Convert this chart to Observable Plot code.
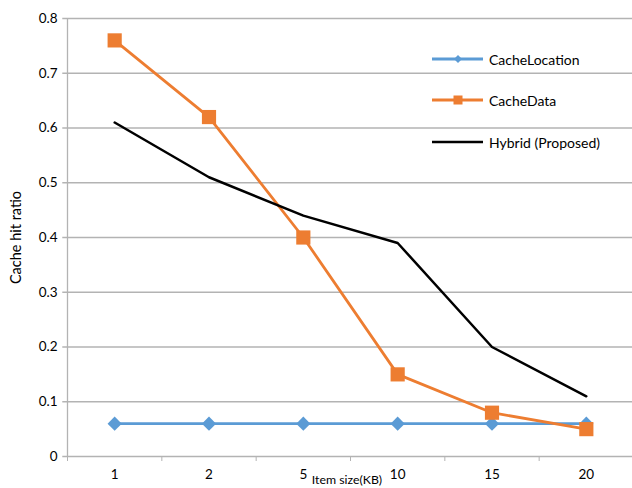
<!DOCTYPE html>
<html>
<head>
<meta charset="utf-8">
<script src="https://cdn.jsdelivr.net/npm/d3@7"></script>
<script src="https://cdn.jsdelivr.net/npm/@observablehq/plot@0.6"></script>
<style>
  html, body { margin: 0; padding: 0; background: #fff; }
  #wrap { position: relative; width: 632px; height: 488px; font-family: Lato, "Open Sans", sans-serif; }
  #legend { position: absolute; left: 432px; top: 48px; font-size: 14px; color: #000; }
  .row { display: flex; align-items: center; height: 22px; position: absolute; white-space: nowrap; }
  .row svg { margin-right: 6px; }
</style>
</head>
<body>
<div id="wrap"></div>
<script>
const categories = ["1", "2", "5", "10", "15", "20"];
const cacheLocation = [0.06, 0.06, 0.06, 0.06, 0.06, 0.06];
const cacheData = [0.76, 0.62, 0.40, 0.15, 0.08, 0.05];
const hybrid = [0.61, 0.51, 0.44, 0.39, 0.20, 0.11];
const yTicks = [0, 0.1, 0.2, 0.3, 0.4, 0.5, 0.6, 0.7, 0.8];

const seriesNames = ["CacheLocation", "CacheData", "Hybrid (Proposed)"];
const colors = ["#5B9BD5", "#ED7D31", "#000000"];

const toRows = (vals) => vals.map((v, i) => ({ i: i + 0.5, cat: categories[i], v }));
const locRows = toRows(cacheLocation);
const dataRows = toRows(cacheData);
const hybRows = toRows(hybrid);

const boundaries = d3.range(0, categories.length + 1);
const centers = categories.map((c, i) => i + 0.5);

const chart = Plot.plot({
  width: 632,
  height: 488,
  marginLeft: 67,
  marginRight: 0,
  marginTop: 18,
  marginBottom: 32,
  style: { fontFamily: "Lato, 'Open Sans', sans-serif", fontSize: "13.5px", color: "#000", background: "#fff" },
  x: { type: "linear", domain: [0, categories.length], range: [67, 633] },
  y: { domain: [0, 0.8] },
  marks: [
    Plot.ruleY(yTicks, { stroke: "#b3b3b3", strokeWidth: 1.3, x1: -0.05, x2: categories.length, clip: false }),
    Plot.ruleX([0], { stroke: "#b3b3b3", strokeWidth: 1.3 }),
    Plot.axisY({ ticks: yTicks, tickSize: 0, tickPadding: 10, tickFormat: d => String(+d.toFixed(1)), label: null }),
    Plot.axisY({ ticks: [], label: "Cache hit ratio", labelAnchor: "center", labelArrow: "none", labelOffset: 57, fontSize: 14.5 }),
    Plot.axisX({ ticks: boundaries, tickSize: 5, stroke: "#b3b3b3", tickFormat: () => "", label: null }),
    Plot.axisX({ ticks: centers, tickSize: 0, tickPadding: 13, tickFormat: (d) => categories[Math.floor(d)], label: null }),
    Plot.text(["Item size(KB)"], { frameAnchor: "bottom", dx: -3, dy: 27, fontSize: 12.3 }),
    Plot.line(locRows, { x: "i", y: "v", stroke: colors[0], strokeWidth: 2.8 }),
    Plot.line(dataRows, { x: "i", y: "v", stroke: colors[1], strokeWidth: 2.8 }),
    Plot.line(hybRows, { x: "i", y: "v", stroke: colors[2], strokeWidth: 2.5 }),
    Plot.dot(locRows, { x: "i", y: "v", symbol: "diamond2", r: 6.4, fill: colors[0], stroke: "none" }),
    Plot.dot(dataRows, { x: "i", y: "v", symbol: "square", r: 8, fill: colors[1], stroke: "none" })
  ]
});

const wrap = document.getElementById("wrap");
wrap.appendChild(chart);

// legend
const legend = document.createElement("div");
legend.id = "legend";
const tops = [0, 41, 83];
seriesNames.forEach((name, k) => {
  const row = document.createElement("div");
  row.className = "row";
  row.style.top = tops[k] + "px";
  let marker = "";
  if (k === 0) marker = `<path d="M26,7 L30,11 L26,15 L22,11 Z" fill="${colors[0]}"/>`;
  if (k === 1) marker = `<rect x="21.5" y="6.5" width="9" height="9" fill="${colors[1]}"/>`;
  row.innerHTML = `<svg width="51" height="22"><line x1="0" x2="51" y1="11" y2="11" stroke="${colors[k]}" stroke-width="${k===2?2.5:2.8}"/>${marker}</svg><span>${name}</span>`;
  legend.appendChild(row);
});
wrap.appendChild(legend);
</script>
</body>
</html>
